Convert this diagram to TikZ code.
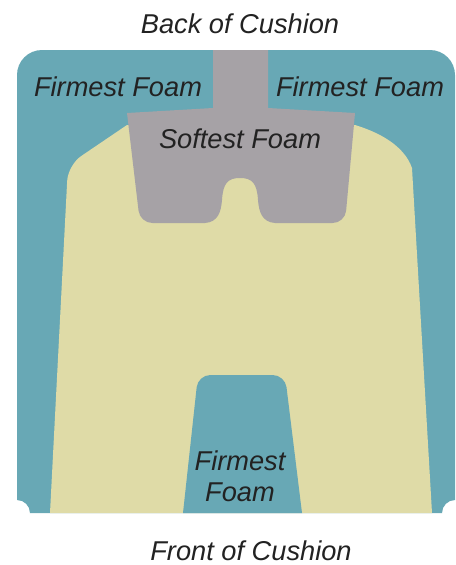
\documentclass[tikz,border=0pt]{standalone}
\usepackage{fontspec}
\setmainfont{Liberation Sans}
\usepackage{tikz}
\usetikzlibrary{positioning}
\usepackage{xcolor}
\definecolor{firmblue}{HTML}{68A8B5}
\definecolor{midyellow}{HTML}{DFDBA7}
\definecolor{softgray}{HTML}{A6A2A6}
\definecolor{inkgray}{HTML}{222222}

\begin{document}
\begin{tikzpicture}[
    x=0.02cm, y=-0.02cm,
    zonelabel/.style={
      font=\fontsize{15.5}{19}\selectfont\itshape, text=inkgray,
      anchor=base, inner sep=0pt, align=center,
    },
  ]
  \useasboundingbox[fill=white] (0,0) rectangle (456,565);

  % =================== Firmest foam: outer block ===================
  \fill[firmblue] (17,500) -- (17,75) arc[start angle=180, end angle=270, radius=25]
    -- (430,50) arc[start angle=270, end angle=360, radius=25]
    -- (455,500) arc[start angle=270, end angle=180, radius=13]
    -- (30,513) arc[start angle=0, end angle=-90, radius=13] -- cycle;

  % =================== Medium foam ===================
  \fill[midyellow] (127,125) -- (355,125)
    .. controls (378,132) and (404,145) .. (412,168)
    -- (432,513) -- (50,513) [rounded corners=9pt] -- (68,165)
    [sharp corners] -- cycle;

  % =================== Softest foam ===================
  \fill[softgray] (213,50) -- (213,108) -- (127,113) [rounded corners=7pt] -- (140,223)
    [sharp corners] -- (205,223)
    .. controls (218,222) and (221,212) .. (222,200)
    .. controls (223,183) and (228,178) .. (240,178)
    .. controls (252,178) and (257,183) .. (258,200)
    .. controls (259,212) and (262,222) .. (275,223)
    [rounded corners=7pt] -- (345,223) [sharp corners] -- (355,113) -- (268,108)
    -- (268,50) -- cycle;

  % Firmest foam at the front
  \fill[firmblue] (183,513) [rounded corners=7pt] -- (198,375) -- (285,375)
    [sharp corners] -- (302,513) -- cycle;

  % =================== Labels ===================
  \node[zonelabel] (back) at (240,33) {Back of Cushion};
  \node[zonelabel] (firmL) at (118,96) {Firmest Foam};
  \node[zonelabel] (firmR) at (360,96) {Firmest Foam};
  \node[zonelabel] (soft) at (240,148) {Softest Foam};
  \node[zonelabel] (firmF) at (240,470) {Firmest};
  \node[zonelabel] (foamF) at (240,501) {Foam};
  \node[zonelabel] (front) at (251,560) {Front of Cushion};

\end{tikzpicture}
\end{document}
